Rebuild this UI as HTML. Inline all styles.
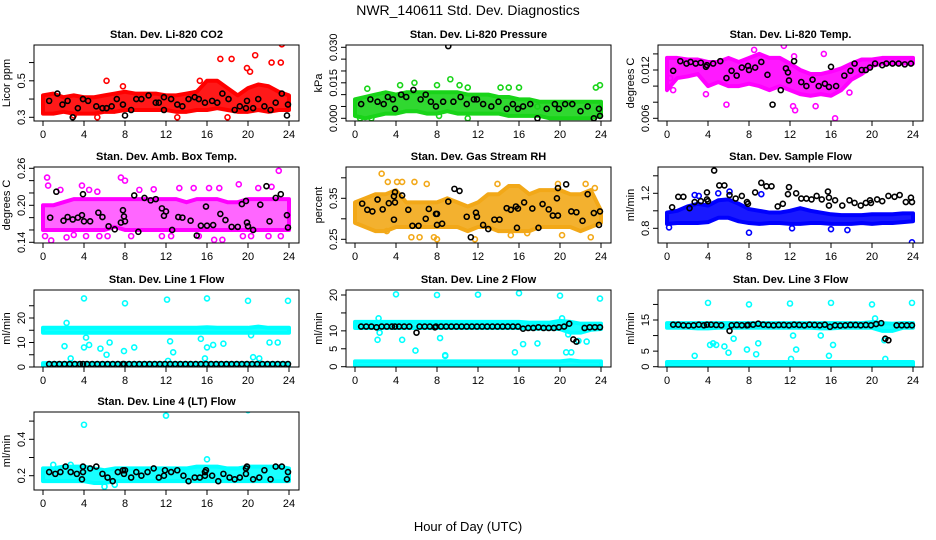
<!DOCTYPE html>
<html><head><meta charset="utf-8">
<style>
html,body{margin:0;padding:0;background:#fff;}
svg{display:block;font-family:"Liberation Sans",Arial,sans-serif;}
</style></head>
<body>
<svg id="chart" width="936" height="540" viewBox="0 0 936 540">
<text x="468" y="15" text-anchor="middle" font-size="14">NWR_140611  Std. Dev. Diagnostics</text>
<text x="468" y="531" text-anchor="middle" font-size="13">Hour of Day (UTC)</text>
</svg>
<script>
// ---------- data ----------
const hoursAxis = [0,4,8,12,16,20,24];
const bandHours = [0,1,2,3,4,5,6,7,8,9,10,11,12,13,14,15,16,17,18,19,20,21,22,23,24];

// Panel 1: CO2
const co2Lo = [0.32,0.32,0.33,0.32,0.32,0.32,0.33,0.33,0.34,0.34,0.34,0.34,0.34,0.33,0.33,0.34,0.34,0.35,0.34,0.33,0.33,0.34,0.33,0.34,0.34];
const co2Hi = [0.42,0.43,0.41,0.42,0.41,0.41,0.42,0.43,0.44,0.43,0.43,0.43,0.42,0.42,0.43,0.44,0.50,0.50,0.46,0.42,0.46,0.48,0.47,0.44,0.42];
const co2Out = [[6.2,0.50],[7.8,0.47],[5.3,0.30],[17.3,0.62],[18.4,0.62],[20.7,0.64],[22.3,0.60],[23.2,0.60],[23.3,0.70],[19.9,0.57],[20.2,0.55],[18,0.30],[13.1,0.30],[3,0.31],[15.3,0.50]];
const co2Blk = [[0.6,0.39],[1.4,0.43],[1.9,0.37],[2.4,0.39],[2.9,0.30],[3.4,0.35],[3.9,0.40],[4.4,0.39],[5.2,0.36],[5.8,0.35],[6.2,0.35],[6.7,0.36],[7.2,0.40],[7.8,0.37],[8.0,0.31],[8.6,0.34],[9.1,0.40],[9.6,0.40],[10.3,0.42],[11,0.38],[11.3,0.38],[11.8,0.34],[11.8,0.41],[12.5,0.40],[13.1,0.37],[13.6,0.36],[14.2,0.40],[14.8,0.41],[15.2,0.40],[15.8,0.38],[16.5,0.39],[17,0.38],[17.5,0.43],[18.1,0.40],[18.7,0.34],[19.2,0.36],[19.8,0.35],[19.9,0.39],[20.5,0.35],[21,0.40],[21.6,0.36],[22.2,0.34],[22.7,0.38],[23.3,0.43],[23.9,0.37],[23.8,0.31]];

// Panel 2: Pressure
const prLo = [0.001,0.000,0.001,0.002,0.002,0.003,0.003,0.002,0.002,0.003,0.002,0.002,0.002,0.002,0.002,0.001,0.001,0.001,0.001,0.000,0.000,0.000,0.000,0.000,0.001];
const prHi = [0.008,0.009,0.010,0.011,0.010,0.011,0.011,0.011,0.011,0.011,0.011,0.010,0.010,0.010,0.009,0.009,0.008,0.008,0.007,0.007,0.007,0.007,0.007,0.007,0.007];
const prOut = [[1.2,0.0125],[4.4,0.014],[5.8,0.015],[8,0.014],[9.3,0.0165],[10.2,0.014],[11,0.013],[14.2,0.013],[15,0.013],[16,0.013],[23.5,0.013],[23.9,0.014],[0.5,0],[1.6,0],[11,0],[17.8,0.005],[8.2,0.001]];
const prBlk = [[0.6,0.006],[1.5,0.008],[2.2,0.007],[2.8,0.006],[3.2,0.009],[3.7,0.008],[3.9,0.004],[4.5,0.010],[5,0.009],[5.7,0.012],[6.4,0.008],[6.9,0.010],[7.4,0.007],[7.9,0.005],[8.6,0.007],[9.1,0.0305],[9.6,0.007],[10.3,0.009],[10.9,0.006],[11.6,0.008],[11.9,0.008],[12.5,0.006],[13.3,0.005],[14,0.007],[14.8,0.004],[15.4,0.006],[15.9,0.004],[16.4,0.005],[17.1,0.006],[17.8,0.000],[18.7,0.004],[19.5,0.006],[19.9,0.004],[20.5,0.006],[21.2,0.006],[22,0.003],[22.7,0.005],[23.3,0.000],[23.8,0.004],[23.9,0.001]];

// Panel 3: Li-820 Temp
const ltLo = [0.0095,0.0110,0.0112,0.0115,0.0100,0.0105,0.0100,0.0100,0.0103,0.0100,0.0095,0.0100,0.0095,0.0090,0.0088,0.0090,0.0088,0.0095,0.0108,0.0115,0.0125,0.0128,0.0128,0.0128,0.0128];
const ltHi = [0.0135,0.0135,0.0133,0.0133,0.0130,0.0130,0.0135,0.0130,0.0135,0.0140,0.0135,0.0135,0.0128,0.0120,0.0115,0.0115,0.0118,0.0122,0.0128,0.0133,0.0133,0.0135,0.0135,0.0135,0.0135];
const ltOut = [[0.3,0.0110],[0.6,0.0095],[3.8,0.0090],[5.8,0.0077],[8.5,0.0145],[11.4,0.0150],[12.3,0.0075],[12.5,0.0070],[14.5,0.0075],[16.4,0.0060],[17.8,0.0092],[15.3,0.0140],[12.4,0.0137]];
const ltBlk = [[0.6,0.0119],[1.3,0.0131],[1.9,0.0128],[2.3,0.0130],[2.8,0.0128],[3.3,0.0129],[3.8,0.0124],[3.9,0.0126],[4.5,0.0128],[5.2,0.0131],[5.8,0.0110],[6.3,0.0119],[6.8,0.0113],[7.3,0.0123],[7.9,0.0125],[8.0,0.0120],[8.6,0.0123],[9.2,0.0130],[9.8,0.0114],[10.3,0.0077],[11.1,0.0095],[11.6,0.0122],[11.8,0.0117],[11.9,0.0107],[12.4,0.0131],[13.1,0.0105],[13.6,0.0100],[14.2,0.0108],[14.8,0.0100],[15.4,0.0103],[15.8,0.0099],[16,0.0124],[16.5,0.0100],[17.3,0.0113],[17.9,0.0119],[18.3,0.0128],[19,0.0120],[19.4,0.0120],[19.8,0.0123],[20.3,0.0128],[21,0.0126],[21.4,0.0128],[22,0.0128],[22.6,0.0128],[23.2,0.0127],[23.8,0.0128]];

// Panel 4: Ambient box temp
const abLo = [0.16,0.16,0.16,0.16,0.16,0.16,0.16,0.165,0.16,0.16,0.16,0.16,0.16,0.16,0.16,0.16,0.16,0.16,0.16,0.16,0.16,0.16,0.16,0.16,0.16];
const abHi = [0.20,0.20,0.205,0.21,0.21,0.21,0.21,0.21,0.21,0.21,0.21,0.21,0.21,0.21,0.205,0.21,0.21,0.21,0.205,0.205,0.21,0.21,0.21,0.21,0.21];
const abOut = [[0.2,0.150],[0.4,0.245],[0.5,0.232],[0.8,0.143],[1.7,0.225],[2.3,0.148],[3,0.152],[3.8,0.232],[4.2,0.15],[4.5,0.225],[5.3,0.222],[5.5,0.15],[6.3,0.15],[7.6,0.245],[8.0,0.24],[8.6,0.15],[9.4,0.225],[10.8,0.226],[11.6,0.15],[12.5,0.150],[13.3,0.228],[14.7,0.228],[15.2,0.150],[16.2,0.228],[16.7,0.144],[17.2,0.228],[17.5,0.144],[19.1,0.234],[19.5,0.15],[20.3,0.15],[21,0.228],[22,0.15],[23.0,0.256],[23.2,0.15],[22.3,0.23]];
const abBlk = [[0.7,0.180],[1.3,0.222],[2,0.175],[2.4,0.181],[2.9,0.177],[3.4,0.180],[3.8,0.184],[3.9,0.218],[4,0.174],[4.6,0.174],[5.4,0.188],[5.8,0.181],[6.4,0.166],[7,0.161],[7.6,0.172],[7.8,0.192],[7.9,0.182],[8,0.174],[8.9,0.216],[9.3,0.157],[9.9,0.212],[10.5,0.208],[11,0.210],[11.6,0.195],[11.8,0.183],[12,0.190],[12.6,0.160],[13.2,0.181],[13.6,0.180],[14.4,0.175],[15,0.151],[15.4,0.167],[15.9,0.198],[16,0.167],[16.6,0.168],[17.3,0.186],[17.8,0.176],[18.4,0.165],[19,0.165],[19.4,0.202],[19.8,0.207],[19.9,0.172],[20,0.166],[20.5,0.160],[21.2,0.201],[21.8,0.231],[22.1,0.174],[22.7,0.212],[23.2,0.218],[23.8,0.184],[23.9,0.164]];

// Panel 5: Gas stream RH
const rhLo = [0.29,0.28,0.27,0.27,0.28,0.28,0.28,0.28,0.28,0.28,0.28,0.27,0.28,0.28,0.27,0.27,0.27,0.27,0.28,0.28,0.28,0.28,0.27,0.28,0.29];
const rhHi = [0.34,0.35,0.36,0.36,0.37,0.34,0.34,0.34,0.34,0.35,0.34,0.33,0.34,0.36,0.36,0.38,0.38,0.36,0.37,0.37,0.37,0.36,0.36,0.37,0.32];
const rhOut = [[2.6,0.41],[3.2,0.39],[4.1,0.39],[4.6,0.39],[5.8,0.39],[7,0.385],[5.5,0.255],[6.3,0.255],[7.7,0.255],[8,0.25],[11.7,0.25],[13.9,0.385],[19.8,0.385],[22.5,0.385],[23.4,0.375],[20.2,0.26],[23,0.255],[15.2,0.26],[16.8,0.265],[3.1,0.27]];
const rhBlk = [[0.7,0.337],[1.2,0.322],[1.7,0.318],[2.2,0.347],[2.7,0.323],[3.3,0.338],[3.8,0.355],[3.9,0.365],[3.9,0.340],[3.8,0.298],[4.6,0.357],[5.2,0.322],[5.6,0.283],[6.2,0.283],[6.9,0.300],[7.2,0.324],[7.9,0.312],[8,0.312],[8,0.285],[8.5,0.288],[9.1,0.342],[9.7,0.373],[10.2,0.368],[10.9,0.305],[11.3,0.255],[11.8,0.315],[11.9,0.305],[12.5,0.285],[13,0.275],[13.6,0.298],[14.1,0.298],[14.8,0.326],[15.2,0.322],[15.7,0.330],[15.8,0.278],[15.9,0.325],[16.5,0.340],[17.3,0.325],[17.9,0.278],[18.3,0.336],[18.9,0.323],[19.3,0.308],[19.8,0.308],[19.7,0.350],[19.8,0.375],[20.6,0.384],[21.1,0.318],[21.6,0.316],[22.2,0.295],[22.7,0.360],[23.3,0.314],[23.8,0.285],[23.9,0.318]];

// Panel 6: Sample flow
const sfLo = [0.85,0.86,0.86,0.86,0.87,0.92,0.92,0.88,0.86,0.85,0.86,0.86,0.85,0.85,0.86,0.86,0.85,0.85,0.85,0.86,0.85,0.86,0.86,0.87,0.88];
const sfHi = [0.98,1.00,1.05,1.08,1.06,1.12,1.13,1.08,1.02,1.00,0.98,0.98,1.00,1.03,1.00,0.98,0.96,0.95,0.95,0.95,0.96,0.96,0.96,0.97,0.97];
const sfOut = [[0.2,0.81],[2.7,1.18],[3.1,1.17],[5.0,1.20],[6.1,1.22],[9.2,1.19],[8,0.75],[16,0.79],[17.6,0.78],[23.9,0.64],[12.2,0.80]];
const sfBlk = [[0.5,1.04],[1.1,1.16],[1.6,1.16],[2.2,1.03],[2.7,1.10],[3.3,1.11],[3.9,1.21],[3.9,1.13],[4.0,1.11],[4.6,1.46],[5.1,1.29],[5.6,1.29],[6.1,1.18],[6.7,1.14],[7.3,1.17],[7.8,1.10],[7.9,1.08],[8.6,1.21],[9.2,1.32],[9.7,1.28],[10.2,1.28],[10.8,1.05],[11.3,1.08],[11.8,1.19],[11.9,1.27],[12.6,1.20],[13.1,1.14],[13.6,1.14],[14.1,1.13],[14.6,1.17],[15.1,1.13],[15.7,1.22],[15.8,1.15],[15.8,1.06],[16.4,1.12],[17.1,1.06],[17.8,1.12],[18.3,1.09],[18.9,1.06],[19.4,1.09],[19.8,1.12],[19.9,1.09],[20.5,1.13],[21.0,1.11],[21.6,1.17],[22.2,1.16],[22.7,1.18],[23.3,1.10],[23.8,1.15],[23.9,1.10]];

// Panels 7-9: line flows (two bands each)
const l1UpLo = [14,14,14,14,14,14,14,14,14,14,14,14,14,14,14,14,14,14,14,14,14,14,14,14,14];
const l1UpHi = [16,16,16,16,16,16,16,16,16,16,16,16,16,16,16,16,16.2,16,16,16,16,16.5,16,16,16];
const l1DnLo = [0.3,0.3,0.3,0.3,0.3,0.3,0.3,0.3,0.3,0.3,0.3,0.3,0.3,0.3,0.3,0.3,0.3,0.3,0.3,0.3,0.3,0.3,0.3,0.3,0.3];
const l1DnHi = [1.6,1.6,1.6,1.6,1.6,1.6,1.6,1.6,1.6,1.6,1.6,1.6,1.6,1.6,1.6,1.6,1.6,1.6,1.6,1.6,1.6,1.6,1.6,1.6,1.6];
const l1Out = [[4,28],[8,26],[12.1,27.5],[16,28],[20,27],[23.9,27],[2.3,18],[2.1,8.5],[2.7,3.5],[4,8],[4.5,9],[5.6,7.5],[6.2,5],[6.5,10],[7.9,6.5],[8.9,8],[12.2,2.5],[12.4,10.5],[12.7,6],[15.4,11.5],[15.8,3.5],[16,8],[16.6,9],[17.6,9.5],[20.5,4],[21.1,3.5],[22.1,10],[22.9,10],[20.3,13],[4.2,12]];
const l1BlkH = [0.6,1.1,1.6,2.1,2.6,3.1,3.6,3.9,4.3,4.8,5.3,5.8,6.3,6.8,7.3,7.8,7.9,8.4,8.9,9.4,9.9,10.4,10.9,11.4,11.9,12.4,12.9,13.4,13.9,14.4,14.9,15.4,15.9,16.4,16.9,17.4,17.9,18.4,18.9,19.4,19.9,20.4,20.9,21.4,21.9,22.4,22.9,23.4,23.9];
const l1BlkV = [1.2,1.2,1.2,1.2,1.2,1.2,1.2,1.2,1.2,1.2,1.2,1.2,1.2,1.2,1.2,1.2,1.2,1.2,1.2,1.2,1.2,1.2,1.2,1.2,1.2,1.2,1.2,1.2,1.2,1.2,1.2,1.2,1.2,1.2,1.2,1.2,1.2,1.2,1.2,1.2,1.2,1.2,1.2,1.2,1.2,1.2,1.2,1.2,1.2];

const l2UpLo = [10.8,10.8,10.8,10.8,10.8,10.8,10.8,10.8,10.8,10.8,10.8,10.8,10.8,10.8,10.8,10.8,10.8,10.6,10.6,10.6,10.5,9.5,9.5,10.3,10.5];
const l2UpHi = [12.5,12.5,12.5,12.5,12.5,12.5,12.5,12.5,12.5,12.5,12.5,12.5,12.5,12.5,12.5,12.5,12.5,12.3,12.3,12.3,12.8,12.5,12,12,12];
const l2DnLo = [0.1,0.1,0.1,0.1,0.1,0.1,0.1,0.1,0.1,0.1,0.1,0.1,0.1,0.1,0.1,0.1,0.1,0.1,0.1,0.1,0.1,0.1,0.1,0.1,0.1];
const l2DnHi = [1.5,1.5,1.5,1.5,1.5,1.5,1.5,1.5,1.5,1.5,1.5,1.5,1.5,1.5,1.5,1.5,1.5,1.5,1.5,1.5,1.5,1.8,1.5,1.5,1.5];
const l2Out = [[4,20.2],[8,20],[12,20.1],[16,20.5],[20,19.8],[23.9,19],[2.3,13.5],[2.2,7.5],[2.4,9.5],[4.6,7.5],[5.9,4.5],[8.3,8],[8.8,3.2],[8.8,3],[16.4,6.3],[17.8,6.5],[20.2,13.5],[20.6,4],[21.1,4],[21.8,7.2],[22.6,7],[15.6,4],[20.8,9]];
const l2BlkH = [0.6,1.1,1.6,2.1,2.6,3.1,3.6,3.9,4.3,4.8,5.3,6.0,6.3,6.8,7.3,7.8,7.9,8.4,8.9,9.4,9.9,10.4,10.9,11.4,11.9,12.4,12.9,13.4,13.9,14.4,14.9,15.4,15.9,16.4,16.9,17.4,17.9,18.4,18.9,19.4,19.9,20.4,20.9,21.3,21.6,22.4,22.9,23.4,23.9];
const l2BlkV = [11.2,11.2,11.2,11,11.2,11.2,11.2,11.2,11.2,11.2,11.2,9.5,11.2,11.2,11.2,11,11.2,11.2,11.2,11.2,11.2,11.2,11.2,11.2,11.2,11.2,11.2,11.2,11.2,11.2,11.2,11.2,11.2,10.6,10.8,10.8,11,10.8,10.8,10.8,11,11.2,12,7.6,7.0,10.8,11,11,11];

const l3UpLo = [12.5,12.5,12.5,12.3,12.3,12.5,12.5,12.5,12.5,12.5,12.5,12.5,12.5,12.5,12.5,12.3,12.3,12.5,12.5,12.5,12.5,11.5,11.5,12.5,12.5];
const l3UpHi = [14,14,14,14,14,14,14,14,14,14,14,14,14,14,14,14,14,14,14,14,14.3,14,13.8,14,14];
const l3DnLo = [0.1,0.1,0.1,0.1,0.1,0.1,0.1,0.1,0.1,0.1,0.1,0.1,0.1,0.1,0.1,0.1,0.1,0.1,0.1,0.1,0.1,0.1,0.1,0.1,0.1];
const l3DnHi = [1.5,1.5,1.5,1.5,1.5,1.5,1.5,1.5,1.5,1.5,1.5,1.5,1.5,1.5,1.5,1.5,1.5,1.5,1.5,1.5,1.5,1.5,1.5,1.5,1.5];
const l3Out = [[4,20.5],[8,20],[12,20.3],[16,20.5],[20,20],[23.9,20.5],[20.3,15.5],[2.7,3.5],[4.2,7],[4.8,7],[4.5,7.5],[5.6,6.5],[6,4.5],[6.5,9],[7.8,5.5],[8.7,4],[8.9,7.5],[12.1,2.5],[12.3,10],[12.6,5.5],[15.8,3.5],[16.2,7],[21.3,2.5],[21.2,8.5],[15,10]];
const l3BlkH = [0.6,1.1,1.6,2.1,2.6,3.1,3.6,3.9,4.3,4.8,5.3,6.1,6.3,6.8,7.3,7.8,7.9,8.4,8.9,9.4,9.9,10.4,10.9,11.4,11.9,12.4,12.9,13.4,13.9,14.4,14.9,15.4,15.9,16.4,16.9,17.4,17.9,18.4,18.9,19.4,19.9,20.4,20.9,21.3,21.6,22.4,22.9,23.4,23.9];
const l3BlkV = [13.5,13.5,13.3,13.2,13.3,13.5,13.3,13.5,13.5,13.4,13.3,11.5,13.3,13.4,13.3,13.3,13.4,13.5,13.8,13.5,13.4,13.3,13.4,13.4,13.3,13.5,13.4,13.3,13.5,13.4,13.3,13.5,12.8,13.3,13.2,13.3,13.4,13.4,13.3,13.4,13.3,13.7,14,9,8.5,13.3,13.3,13.3,13.3];

// Panel 10: Line 4 (LT) flow
const l4Lo = [0.17,0.17,0.17,0.17,0.17,0.16,0.16,0.17,0.17,0.17,0.17,0.17,0.17,0.17,0.17,0.17,0.17,0.17,0.17,0.17,0.17,0.17,0.17,0.17,0.17];
const l4Hi = [0.24,0.24,0.25,0.25,0.25,0.24,0.23,0.24,0.24,0.24,0.24,0.24,0.24,0.24,0.24,0.25,0.25,0.25,0.24,0.24,0.25,0.25,0.25,0.25,0.24];
const l4Out = [[4,0.48],[12,0.53],[20,0.56],[6,0.14],[7,0.15],[16,0.29],[1,0.26],[2.7,0.26]];
const l4Blk = [[0.6,0.22],[1.2,0.21],[1.7,0.22],[2.2,0.25],[2.7,0.22],[3.3,0.21],[3.8,0.18],[3.9,0.22],[3.9,0.25],[4.6,0.24],[5.2,0.25],[5.8,0.21],[6.3,0.19],[6.8,0.17],[7.3,0.22],[7.8,0.23],[7.9,0.21],[8.0,0.23],[8.6,0.19],[9.1,0.22],[9.6,0.20],[10.2,0.22],[10.8,0.24],[11.3,0.19],[11.8,0.20],[11.9,0.23],[12.5,0.22],[13.1,0.23],[13.7,0.20],[14.2,0.17],[14.8,0.19],[15.3,0.19],[15.8,0.20],[15.8,0.22],[15.9,0.23],[16.5,0.20],[17.1,0.17],[17.6,0.21],[18.2,0.19],[18.7,0.18],[19.2,0.19],[19.8,0.24],[19.8,0.21],[19.9,0.25],[20.5,0.18],[21.1,0.19],[21.6,0.23],[22.2,0.18],[22.7,0.25],[23.3,0.25],[23.8,0.18],[23.9,0.22]];

// ---------- layout ----------
const NS = "http://www.w3.org/2000/svg";
const svg = document.getElementById('chart');
const colX0 = [43,355,667];
const rowTop = [45,167,290,412], rowBot = [121,243,367,490];
const HW = 246;

function zip(h,v){return h.map((x,i)=>[x,v[i]]);}

const panels = [
 {name:'co2',title:'Stan. Dev. Li-820 CO2',ylab:'Licor ppm',c:0,r:0,col:'#ff0000',cal:[0.3,117.3,0.5,80.8],ticks:[0.3,0.4,0.5,0.6],labels:['0.3','0.5'],bands:[[co2Lo,co2Hi]],out:co2Out,blk:co2Blk},
 {name:'pressure',title:'Stan. Dev. Li-820 Pressure',ylab:'kPa',c:1,r:0,col:'#19d419',cal:[0,118.3,0.03,47.3],ticks:[0,0.005,0.01,0.015,0.02,0.025,0.03],labels:['0.000','0.015','0.030'],bands:[[prLo,prHi]],out:prOut,blk:prBlk},
 {name:'li820-temp',title:'Stan. Dev. Li-820 Temp.',ylab:'degrees C',c:2,r:0,col:'#ff00ff',cal:[0.006,118.3,0.012,70],ticks:[0.006,0.008,0.01,0.012,0.014],labels:['0.006','0.012'],bands:[[ltLo,ltHi]],out:ltOut,blk:ltBlk},
 {name:'amb-box-temp',title:'Stan. Dev. Amb. Box Temp.',ylab:'degrees C',c:0,r:1,col:'#ff00ff',cal:[0.14,242.3,0.26,168.3],ticks:[0.14,0.16,0.18,0.2,0.22,0.24,0.26],labels:['0.14','0.20','0.26'],bands:[[abLo,abHi]],out:abOut,blk:abBlk,op:0.6},
 {name:'gas-stream-rh',title:'Stan. Dev. Gas Stream RH',ylab:'percent',c:1,r:1,col:'#f2a818',cal:[0.25,239.3,0.35,198.3],ticks:[0.25,0.3,0.35,0.4],labels:['0.25','0.35'],bands:[[rhLo,rhHi]],out:rhOut,blk:rhBlk},
 {name:'sample-flow',title:'Stan. Dev. Sample Flow',ylab:'ml/min',c:2,r:1,col:'#0000ff',cal:[0.8,228.3,1.2,193.3],ticks:[0.8,1.0,1.2,1.4],labels:['0.8','1.2'],bands:[[sfLo,sfHi]],out:sfOut,blk:sfBlk},
 {name:'line1-flow',title:'Stan. Dev. Line 1 Flow',ylab:'ml/min',c:0,r:2,col:'#00ffff',cal:[0,367,20,318],ticks:[0,5,10,15,20,25],labels:['0','10','20'],bands:[[l1UpLo,l1UpHi],[l1DnLo,l1DnHi]],out:l1Out,blk:zip(l1BlkH,l1BlkV)},
 {name:'line2-flow',title:'Stan. Dev. Line 2 Flow',ylab:'ml/min',c:1,r:2,col:'#00ffff',cal:[0,366.7,20,295],ticks:[0,5,10,15,20],labels:['0','5','10','20'],bands:[[l2UpLo,l2UpHi],[l2DnLo,l2DnHi]],out:l2Out,blk:zip(l2BlkH,l2BlkV)},
 {name:'line3-flow',title:'Stan. Dev. Line 3 Flow',ylab:'ml/min',c:2,r:2,col:'#00ffff',cal:[0,366.7,15,320],ticks:[0,5,10,15,20],labels:['0','5','15'],bands:[[l3UpLo,l3UpHi],[l3DnLo,l3DnHi]],out:l3Out,blk:zip(l3BlkH,l3BlkV)},
 {name:'line4-flow',title:'Stan. Dev. Line 4 (LT) Flow',ylab:'ml/min',c:0,r:3,col:'#00ffff',cal:[0.2,475.7,0.4,439.3],ticks:[0.2,0.3,0.4,0.5],labels:['0.2','0.4'],bands:[[l4Lo,l4Hi]],out:l4Out,blk:l4Blk}
];

function mk(tag, attrs, parent){
  const e=document.createElementNS(NS,tag);
  for(const k in attrs) e.setAttribute(k,attrs[k]);
  (parent||svg).appendChild(e); return e;
}
function fmt(v,labels){
  for(const l of labels){ if(Math.abs(parseFloat(l)-v)<1e-9) return l; }
  return null;
}

panels.forEach(p=>{
  const x0=colX0[p.c], top=rowTop[p.r], bot=rowBot[p.r];
  const left=x0-9, right=x0+HW+10;
  const xs=h=>x0+h*HW/24;
  const [v0,p0,v1,p1]=p.cal;
  const ys=v=>p0+(v-v0)*(p1-p0)/(v1-v0);
  const g=mk('g',{});
  
  
  const clipId='clip-'+p.name;
  const cp=mk('clipPath',{id:clipId},g);
  mk('rect',{x:left,y:top,width:right-left,height:bot-top},cp);
  const plot=mk('g',{'clip-path':'url(#'+clipId+')'},g);
  
  
  p.bands.forEach((b,bi)=>{
    const [lo,hi]=b;
    let pts=bandHours.map((h,i)=>xs(h)+','+ys(hi[i]));
    pts=pts.concat(bandHours.slice().reverse().map((h,j)=>{const i=bandHours.length-1-j;return xs(h)+','+ys(lo[i]);}));
    const poly=mk('polygon',{points:pts.join(' '),fill:p.col,'fill-opacity':p.op||0.9,stroke:p.col,'stroke-width':4,'stroke-linejoin':'round'},plot);
    
    
  });
  p.out.forEach(d=>{
    const c=mk('circle',{cx:xs(d[0]),cy:ys(d[1]),r:2.5,fill:'none',stroke:p.col,'stroke-width':1.6},plot);
    
    
  });
  p.blk.forEach(d=>{
    const c=mk('circle',{cx:xs(d[0]),cy:ys(d[1]),r:2.5,fill:'none',stroke:'#000','stroke-width':1.6},plot);
    
    
  });
  const box=mk('rect',{x:left,y:top,width:right-left,height:bot-top,fill:'none',stroke:'#000','stroke-width':1},g);
  
  
  hoursAxis.forEach(h=>{
    mk('line',{x1:xs(h),x2:xs(h),y1:bot,y2:bot+5,stroke:'#000'},g);
    const t=mk('text',{x:xs(h),y:bot+17,'text-anchor':'middle','font-size':11},g);
    t.textContent=h;
    
    
  });
  p.ticks.forEach(v=>{
    const y=ys(v);
    mk('line',{x1:left-5,x2:left,y1:y,y2:y,stroke:'#000'},g);
    const lab=fmt(v,p.labels);
    if(lab!==null){
      const t=mk('text',{x:left-9,y:y,'text-anchor':'middle','font-size':11,transform:'rotate(-90 '+(left-9)+' '+y+')'},g);
      t.textContent=lab;
      
      
    }
  });
  const ym=(top+bot)/2, yx=left-24;
  const yl=mk('text',{x:yx,y:ym,'text-anchor':'middle','font-size':11,transform:'rotate(-90 '+yx+' '+ym+')'},g);
  yl.textContent=p.ylab;
  
  
  const tt=mk('text',{x:(left+right)/2,y:top-7,'text-anchor':'middle','font-size':11,'font-weight':'bold'},g);
  tt.textContent=p.title;
  
  
});
</script>
</body></html>
